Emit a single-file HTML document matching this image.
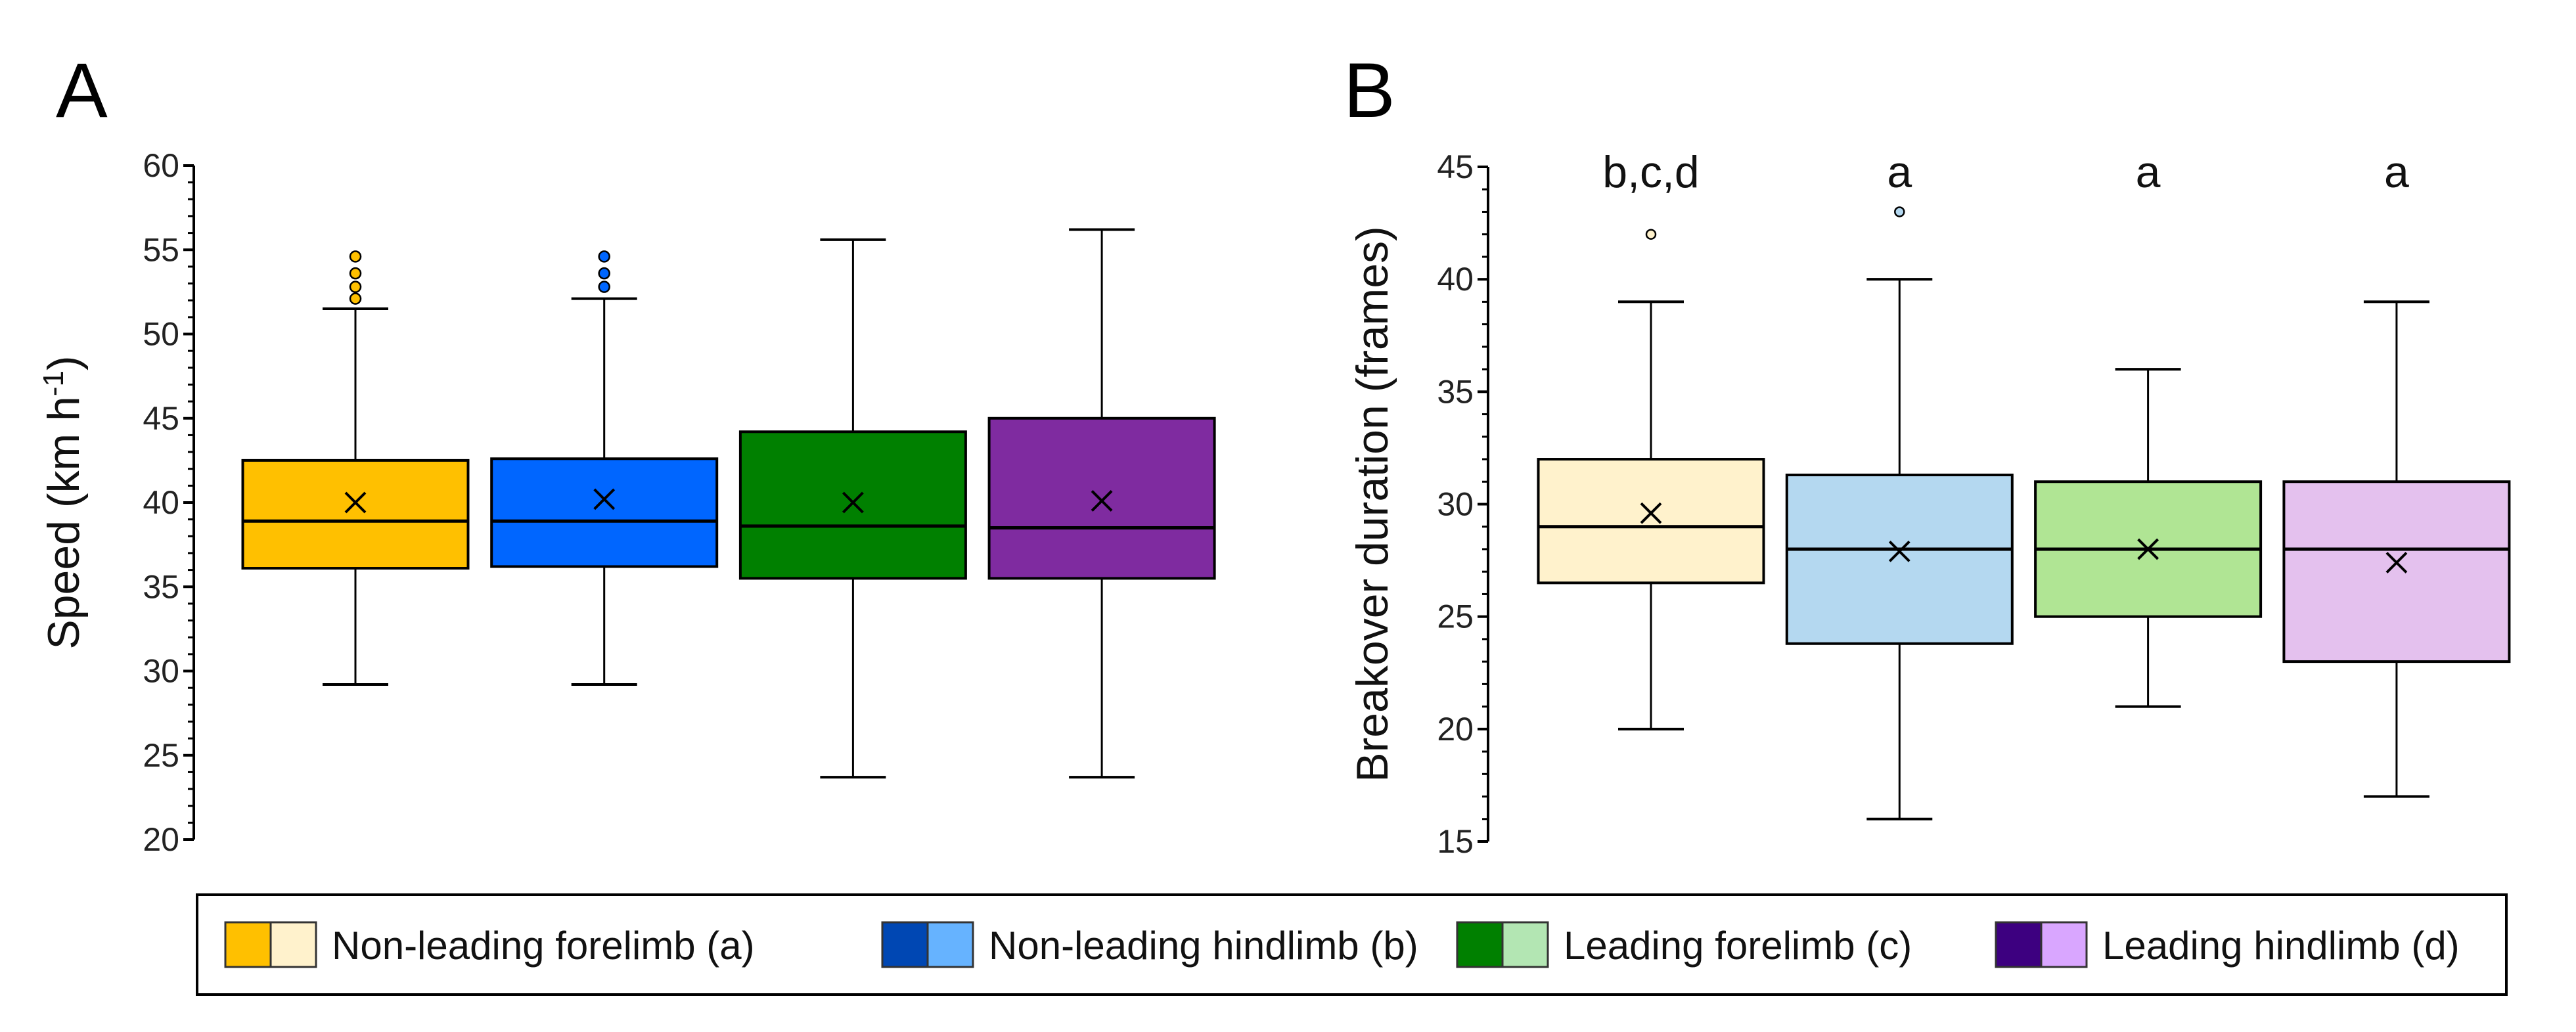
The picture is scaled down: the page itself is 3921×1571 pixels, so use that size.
<!DOCTYPE html>
<html><head><meta charset="utf-8"><style>
html,body{margin:0;padding:0;background:#fff}
svg{display:block;font-family:"Liberation Sans","DejaVu Sans",sans-serif}
</style></head><body>
<svg id="chart" width="3921" height="1571" viewBox="0 0 3921 1571" xmlns="http://www.w3.org/2000/svg"></svg>
<script>
const categories = ["Non-leading forelimb (a)","Non-leading hindlimb (b)","Leading forelimb (c)","Leading hindlimb (d)"];
// Panel A: speed
const speedQ1 = [36.1, 36.2, 35.5, 35.5];
const speedMedian = [38.9, 38.9, 38.6, 38.5];
const speedQ3 = [42.5, 42.6, 44.2, 45.0];
const speedMean = [40.0, 40.2, 40.0, 40.1];
const speedLow = [29.2, 29.2, 23.7, 23.7];
const speedHigh = [51.5, 52.1, 55.6, 56.2];
const speedOutliers = [[52.1, 52.8, 53.6, 54.6], [52.8, 53.6, 54.6], [], []];
const speedTicks = [20, 25, 30, 35, 40, 45, 50, 55, 60];
// Panel B: breakover duration
const durQ1 = [26.5, 23.8, 25.0, 23.0];
const durMedian = [29, 28, 28, 28];
const durQ3 = [32, 31.3, 31, 31];
const durMean = [29.6, 27.9, 28.0, 27.4];
const durLow = [20, 16, 21, 17];
const durHigh = [39, 40, 36, 39];
const durOutliers = [[42], [43], [], []];
const durTicks = [15, 20, 25, 30, 35, 40, 45];
const durLetters = ["b,c,d", "a", "a", "a"];

const NS = "http://www.w3.org/2000/svg";
const svg = document.getElementById("chart");
function mk(tag, attrs, parent, text) {
  const e = document.createElementNS(NS, tag);
  for (const k in attrs) e.setAttribute(k, attrs[k]);
  if (text !== undefined) e.textContent = text;
  (parent || svg).appendChild(e);
  return e;
}

function panel(opts) {
  const g = mk("g", {});
  
  
  const y = v => opts.yBot - (v - opts.min) / (opts.max - opts.min) * (opts.yBot - opts.yTop);
  const x = i => opts.x0 + i * opts.step;
  const ax = mk("line", {x1: opts.axisX, x2: opts.axisX, y1: opts.yTop, y2: opts.yBot, stroke: "#000", "stroke-width": 4}, g);
  
  
  for (let v = opts.min; v <= opts.max; v += 1) {
    const major = (v % 5 === 0);
    mk("line", {x1: opts.axisX - (major ? 16 : 9), x2: opts.axisX, y1: y(v), y2: y(v), stroke: "#000", "stroke-width": major ? 4 : 3}, g);
  }
  opts.ticks.forEach(t => {
    const tl = mk("text", {x: opts.axisX - 22, y: y(t) + 17, "text-anchor": "end", "font-size": 50, fill: "#222"}, g, String(t));
    
    
  });
  const tt = mk("text", {x: 0, y: 0, "text-anchor": "middle", "font-size": 68, fill: "#111", transform: `translate(${opts.titleX},${(opts.yTop + opts.yBot) / 2}) rotate(-90)`}, g);
  
  
  opts.title(tt);
  const pl = mk("text", {x: opts.letterX, y: opts.letterY, "font-size": 118, fill: "#000"}, g, opts.letter);
  
  
  const hw = opts.boxW / 2, cw = 50;
  for (let i = 0; i < opts.q1.length; i++) {
    const cx = x(i);
    const bg = mk("g", {}, g);
    
    
    mk("line", {x1: cx, x2: cx, y1: y(opts.high[i]), y2: y(opts.q3[i]), stroke: "#000", "stroke-width": 3}, bg);
    mk("line", {x1: cx, x2: cx, y1: y(opts.q1[i]), y2: y(opts.low[i]), stroke: "#000", "stroke-width": 3}, bg);
    mk("line", {x1: cx - cw, x2: cx + cw, y1: y(opts.high[i]), y2: y(opts.high[i]), stroke: "#000", "stroke-width": 4}, bg);
    mk("line", {x1: cx - cw, x2: cx + cw, y1: y(opts.low[i]), y2: y(opts.low[i]), stroke: "#000", "stroke-width": 4}, bg);
    mk("rect", {x: cx - hw, y: y(opts.q3[i]), width: opts.boxW, height: y(opts.q1[i]) - y(opts.q3[i]), fill: opts.colors[i], stroke: "#000", "stroke-width": 4}, bg);
    mk("line", {x1: cx - hw, x2: cx + hw, y1: y(opts.med[i]), y2: y(opts.med[i]), stroke: "#000", "stroke-width": 5}, bg);
    const my = y(opts.mean[i]), s = 15;
    mk("path", {d: `M${cx - s},${my - s}L${cx + s},${my + s}M${cx - s},${my + s}L${cx + s},${my - s}`, stroke: "#000", "stroke-width": 4}, bg);
    opts.out[i].forEach(v => {
      const o = mk("circle", {cx: cx, cy: y(v), r: opts.outR, fill: opts.outColors[i], stroke: "#000", "stroke-width": 2.5}, bg);
      
      
    });
    if (opts.letters) {
      const lt = mk("text", {x: cx, y: opts.lettersY, "text-anchor": "middle", "font-size": 68, fill: "#111"}, g, opts.letters[i]);
      
      
    }
  }
}

panel({name: "speed-panel", min: 20, max: 60, yTop: 252, yBot: 1278, axisX: 295, x0: 541, step: 378.7, boxW: 343,
  ticks: speedTicks, q1: speedQ1, q3: speedQ3, med: speedMedian, mean: speedMean, low: speedLow, high: speedHigh, out: speedOutliers,
  colors: ["#FFC000", "#0066FF", "#008000", "#7F2BA0"], outColors: ["#FFC000", "#0066FF", "#008000", "#7F2BA0"], outR: 8,
  titleX: 120, letter: "A", letterX: 85, letterY: 178,
  title: t => {
    mk("tspan", {}, t, "Speed (km h");
    mk("tspan", {dy: -24, "font-size": 44}, t, "-1");
    mk("tspan", {dy: 24}, t, ")");
  }});

panel({name: "duration-panel", min: 15, max: 45, yTop: 254, yBot: 1281, axisX: 2265, x0: 2513, step: 378.3, boxW: 343,
  ticks: durTicks, q1: durQ1, q3: durQ3, med: durMedian, mean: durMean, low: durLow, high: durHigh, out: durOutliers,
  colors: ["#FFF2CC", "#B4D8F0", "#B0E594", "#E4C1EE"], outColors: ["#FFF2CC", "#B4D8F0", "#B0E594", "#E4C1EE"], outR: 7,
  titleX: 2112, letter: "B", letterX: 2045, letterY: 178, letters: durLetters, lettersY: 285,
  title: t => { t.textContent = "Breakover duration (frames)"; }});

const lg = mk("g", {});


mk("rect", {x: 300, y: 1362, width: 3515, height: 152, fill: "#fff", stroke: "#000", "stroke-width": 4}, lg);
const legendX = [343, 1343, 2218, 3038];
const darkC = ["#FFC000", "#0047B3", "#008000", "#3D0080"];
const lightC = ["#FFF2CC", "#66B3FF", "#B3E6B3", "#D9A6FF"];
categories.forEach((c, i) => {
  const e = mk("g", {}, lg);
  
  
  const lx = legendX[i];
  mk("rect", {x: lx, y: 1404, width: 69, height: 68, fill: darkC[i], stroke: "#333", "stroke-width": 3}, e);
  mk("rect", {x: lx + 69, y: 1404, width: 69, height: 68, fill: lightC[i], stroke: "#333", "stroke-width": 3}, e);
  mk("text", {x: lx + 162, y: 1460, "font-size": 60, fill: "#111"}, e, c);
});
</script>
</body></html>
